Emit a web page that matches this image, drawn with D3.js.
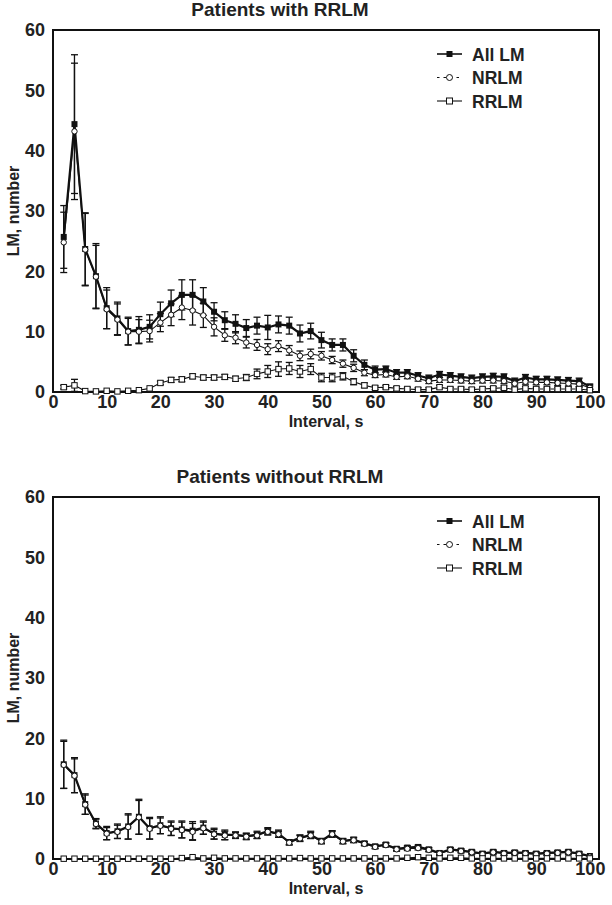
<!DOCTYPE html>
<html><head><meta charset="utf-8">
<script src="https://cdn.jsdelivr.net/npm/d3@7"></script>
<style>
body{margin:0;background:#fff;}
text{font-family:"Liberation Sans",Arial,sans-serif;font-weight:bold;fill:#222;}
</style></head>
<body><svg id="c" width="612" height="905"></svg>
<script>
const intervals = d3.range(2, 101, 2);
const xTicks = [0,10,20,30,40,50,60,70,80,90,100];
const yTicks = [0,10,20,30,40,50,60];
const seriesNames = ["All LM","NRLM","RRLM"];
const titles = ["Patients with RRLM","Patients without RRLM"];

// Patients with RRLM
const withAll = [25.7,44.4,23.7,19.2,13.9,12.2,10.1,10.3,10.8,12.9,14.7,16.1,16.1,15.0,13.3,11.9,11.3,10.6,11.0,10.7,11.2,11.0,9.7,10.1,8.6,7.8,7.8,6.0,4.5,3.7,3.8,3.2,3.2,2.7,2.3,2.9,2.7,2.5,2.3,2.5,2.6,2.5,1.8,2.4,2.1,2.1,2.0,1.9,1.8,0.9];
const withAllErr = [5.2,11.5,6.0,5.4,3.4,2.7,2.3,2.2,2.0,2.0,2.2,2.5,2.5,2.3,1.5,1.4,1.5,1.4,1.4,2.0,1.4,1.4,1.4,1.3,1.3,1.0,1.0,1.0,0.8,0.6,0.5,0.5,0.5,0.5,0.5,0.5,0.5,0.5,0.5,0.5,0.5,0.5,0.5,0.5,0.5,0.5,0.5,0.5,0.5,0.4];
const withNR = [24.8,43.2,23.6,19.1,13.7,12.0,10.0,10.0,10.1,11.5,12.8,14.0,13.5,12.7,10.8,9.4,9.0,8.2,7.8,7.1,7.6,6.9,6.0,6.3,6.0,5.3,4.7,4.0,3.2,2.8,2.9,2.5,2.6,2.2,1.8,2.0,2.0,1.9,1.8,1.9,1.9,1.8,1.4,1.7,1.6,1.6,1.5,1.4,1.3,0.7];
const withNRErr = [5.0,11.3,6.0,5.2,3.2,2.6,2.2,2.0,1.8,1.5,1.8,2.0,2.4,2.0,1.5,1.0,1.0,0.9,0.9,0.9,0.9,0.8,0.8,0.8,0.7,0.6,0.6,0.6,0.5,0.4,0.4,0.4,0.4,0.4,0.4,0.4,0.4,0.4,0.4,0.4,0.4,0.4,0.4,0.4,0.4,0.4,0.4,0.4,0.4,0.3];
const withRR = [0.8,1.1,0.15,0.1,0.2,0.1,0.2,0.3,0.6,1.5,2.0,2.1,2.6,2.4,2.4,2.5,2.2,2.4,3.0,3.4,3.8,3.9,3.4,3.8,2.4,2.4,2.6,1.7,1.1,0.7,0.8,0.6,0.5,0.4,0.4,0.8,0.5,0.5,0.4,0.5,0.6,0.7,0.4,0.6,0.5,0.5,0.5,0.5,0.5,0.3];
const withRRErr = [0.3,1.0,0.1,0.1,0.1,0.1,0.1,0.1,0.2,0.3,0.4,0.4,0.4,0.4,0.4,0.4,0.4,0.5,0.8,1.0,1.2,1.0,1.0,0.9,0.7,0.7,0.6,0.5,0.4,0.3,0.3,0.3,0.3,0.3,0.3,0.3,0.3,0.3,0.3,0.3,0.3,0.3,0.3,0.3,0.3,0.3,0.3,0.3,0.3,0.2];

// Patients without RRLM
const woAll = [15.7,13.9,9.1,5.9,4.3,4.6,5.4,7.0,5.1,5.6,5.1,4.9,4.7,5.2,4.2,4.0,4.0,3.8,4.0,4.6,4.2,2.8,3.5,4.0,3.0,4.2,3.0,3.2,2.6,2.1,2.4,1.7,1.9,2.0,1.6,1.0,1.6,1.4,1.2,0.9,1.2,1.0,1.1,1.0,0.9,1.0,1.1,1.2,0.9,0.5];
const woAllErr = [4.0,2.9,1.7,0.8,1.1,1.2,2.1,2.9,1.8,1.4,1.2,1.4,1.5,1.1,0.9,0.8,0.5,0.5,0.6,0.6,0.6,0.4,0.5,0.6,0.4,0.5,0.4,0.4,0.3,0.3,0.3,0.3,0.3,0.3,0.3,0.3,0.3,0.3,0.3,0.3,0.3,0.3,0.3,0.3,0.3,0.3,0.3,0.3,0.3,0.2];
const woNR = [15.6,13.8,9.0,5.8,4.2,4.5,5.3,6.9,5.0,5.5,5.0,4.8,4.5,5.1,4.1,3.9,3.9,3.7,3.9,4.5,4.1,2.7,3.4,3.9,2.9,4.1,2.9,3.1,2.5,2.0,2.3,1.6,1.7,1.8,1.5,0.9,1.5,1.3,1.1,0.8,1.1,0.9,1.0,0.9,0.8,0.9,1.0,1.1,0.8,0.4];
const woNRErr = [3.9,2.8,1.6,0.8,1.0,1.1,2.0,2.8,1.7,1.3,1.1,1.3,1.4,1.0,0.8,0.7,0.5,0.5,0.5,0.5,0.5,0.4,0.5,0.5,0.4,0.5,0.4,0.4,0.3,0.3,0.3,0.3,0.3,0.3,0.3,0.3,0.3,0.3,0.3,0.3,0.3,0.3,0.3,0.3,0.3,0.3,0.3,0.3,0.3,0.2];
const woRR = [0.05,0.05,0.05,0.05,0.05,0.05,0.05,0.05,0.05,0.05,0.05,0.15,0.3,0.1,0.2,0.1,0.1,0.1,0.1,0.1,0.1,0.1,0.15,0.1,0.1,0.1,0.1,0.1,0.1,0.1,0.1,0.1,0.2,0.3,0.2,0.1,0.2,0.2,0.1,0.1,0.1,0.1,0.1,0.1,0.1,0.1,0.1,0.1,0.1,0.1];
const woRRErr = [0.05,0.05,0.05,0.05,0.05,0.05,0.05,0.05,0.05,0.05,0.05,0.05,0.05,0.05,0.05,0.05,0.05,0.05,0.05,0.05,0.05,0.05,0.05,0.05,0.05,0.05,0.05,0.05,0.05,0.05,0.05,0.05,0.05,0.05,0.05,0.05,0.05,0.05,0.05,0.05,0.05,0.05,0.05,0.05,0.05,0.05,0.05,0.05,0.05,0.05];

const panels = [
  {title:titles[0], top:30, all:withAll, allE:withAllErr, nr:withNR, nrE:withNRErr, rr:withRR, rrE:withRRErr},
  {title:titles[1], top:497, all:woAll, allE:woAllErr, nr:woNR, nrE:woNRErr, rr:woRR, rrE:woRRErr}
];

const svg = d3.select("#c");
const left = 53, right = 599, ph = 362;
const x = d3.scaleLinear().domain([0,101.7]).range([left,right]);
const ink = "#111";

panels.forEach(p => {
  const y = d3.scaleLinear().domain([0,60]).range([p.top+ph, p.top]);
  const g = svg.append("g");

  g.append("text").attr("x",280).attr("y",p.top-14).attr("text-anchor","middle")
    .style("font-size","19px").text(p.title);

  const xa = g.append("g").attr("transform",`translate(0,${p.top+ph})`)
    .call(d3.axisBottom(x).tickValues(xTicks).tickSize(0).tickPadding(3));
  xa.select(".domain").remove();
  xa.selectAll("text").style("font-size","18px").style("font-family","Liberation Sans, Arial").style("font-weight","bold").attr("fill","#222");
  const ya = g.append("g").attr("transform",`translate(${left},0)`)
    .call(d3.axisLeft(y).tickValues(yTicks).tickSize(0).tickPadding(8));
  ya.select(".domain").remove();
  ya.selectAll("text").style("font-size","18px").style("font-family","Liberation Sans, Arial").style("font-weight","bold").attr("fill","#222");

  g.append("rect").attr("x",left).attr("y",p.top).attr("width",right-left).attr("height",ph)
    .attr("fill","none").attr("stroke",ink).attr("stroke-width",2);

  g.append("text").attr("x",(left+right)/2).attr("y",p.top+ph+35).attr("text-anchor","middle")
    .style("font-size","16px").text("Interval, s");
  g.append("text").attr("transform",`translate(19,${p.top+ph/2}) rotate(-90)`).attr("text-anchor","middle")
    .style("font-size","16px").text("LM, number");

  const series = [
    {vals:p.all, err:p.allE, lw:2.2, marker:"fsq"},
    {vals:p.nr, err:p.nrE, lw:1.1, marker:"circ"},
    {vals:p.rr, err:p.rrE, lw:1.1, marker:"osq"}
  ];
  const line = d3.line().x((d,i)=>x(intervals[i])).y(d=>y(d));

  series.forEach(s => {
    const eg = g.append("g").attr("stroke",ink).attr("stroke-width",1.3);
    s.vals.forEach((v,i)=>{
      const e = s.err[i]; if (y(v-e)-y(v+e) < 3) return;
      const cx = x(intervals[i]);
      eg.append("line").attr("x1",cx).attr("x2",cx).attr("y1",y(v+e)).attr("y2",y(v-e));
      eg.append("line").attr("x1",cx-3.5).attr("x2",cx+3.5).attr("y1",y(v+e)).attr("y2",y(v+e));
      eg.append("line").attr("x1",cx-3.5).attr("x2",cx+3.5).attr("y1",y(v-e)).attr("y2",y(v-e));
    });
  });
  series.forEach(s => {
    g.append("path").datum(s.vals).attr("d",line).attr("fill","none").attr("stroke",ink).attr("stroke-width",s.lw);
    const mg = g.append("g");
    s.vals.forEach((v,i)=>{
      const cx = x(intervals[i]), cy = y(v);
      if (s.marker==="fsq") mg.append("rect").attr("x",cx-3).attr("y",cy-3).attr("width",6).attr("height",6).attr("fill",ink);
      else if (s.marker==="circ") mg.append("circle").attr("cx",cx).attr("cy",cy).attr("r",2.7).attr("fill","#fff").attr("stroke",ink).attr("stroke-width",1);
      else mg.append("rect").attr("x",cx-2.7).attr("y",cy-2.7).attr("width",5.4).attr("height",5.4).attr("fill","#fff").attr("stroke",ink).attr("stroke-width",1);
    });
  });

  const lg = g.append("g");
  seriesNames.forEach((name,k)=>{
    const ly = p.top + 24 + k*23.5;
    const l = lg.append("line").attr("x1",437).attr("x2",462).attr("y1",ly).attr("y2",ly)
      .attr("stroke",ink).attr("stroke-width",k===0?1.6:1.1);
    if (k===1) l.attr("stroke-dasharray","2.5,4");
    if (k===0) lg.append("rect").attr("x",446.5).attr("y",ly-3).attr("width",6).attr("height",6).attr("fill",ink);
    else if (k===1) lg.append("circle").attr("cx",449.5).attr("cy",ly).attr("r",3).attr("fill","#fff").attr("stroke",ink);
    else lg.append("rect").attr("x",446.5).attr("y",ly-3).attr("width",6).attr("height",6).attr("fill","#fff").attr("stroke",ink);
    lg.append("text").attr("x",472).attr("y",ly+6.5).style("font-size","17.5px").text(name);
  });
});
</script></body></html>
